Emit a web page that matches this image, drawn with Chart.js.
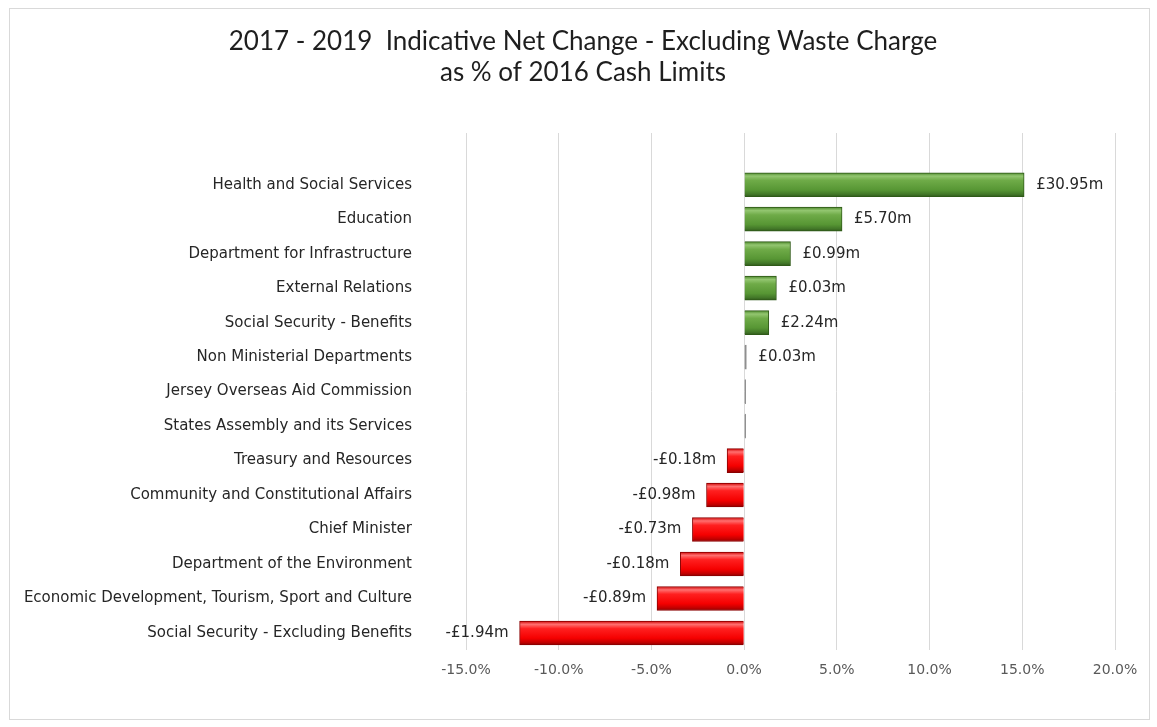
<!DOCTYPE html>
<html>
<head>
<meta charset="utf-8">
<title>2017 - 2019 Indicative Net Change</title>
<script src="https://cdn.jsdelivr.net/npm/chart.js@4"></script>
<style>
  html, body { margin: 0; padding: 0; background: #ffffff; }
  #wrap { position: relative; width: 1157px; height: 727px; }
</style>
</head>
<body>
<div id="wrap"><canvas id="netChart" width="1157" height="727"></canvas></div>
<script>
// ── Data ────────────────────────────────────────────────
// first slot is the empty band Excel leaves above the first bar
const categories = [
  "",
  "Health and Social Services",
  "Education",
  "Department for Infrastructure",
  "External Relations",
  "Social Security - Benefits",
  "Non Ministerial Departments",
  "Jersey Overseas Aid Commission",
  "States Assembly and its Services",
  "Treasury and Resources",
  "Community and Constitutional Affairs",
  "Chief Minister",
  "Department of the Environment",
  "Economic Development, Tourism, Sport and Culture",
  "Social Security - Excluding Benefits"
];
const pctValues = [null, 15.1, 5.28, 2.5, 1.74, 1.33, 0.12, 0.08, 0.08, -0.92, -2.03, -2.79, -3.44, -4.7, -12.11];
const cashLabels = ["", "£30.95m", "£5.70m", "£0.99m", "£0.03m", "£2.24m", "£0.03m", "", "",
  "-£0.18m", "-£0.98m", "-£0.73m", "-£0.18m", "-£0.89m", "-£1.94m"];
const xMin = -15;
const xMax = 20;
const xStep = 5;
const titleLines = ["2017 - 2019  Indicative Net Change - Excluding Waste Charge", "as % of 2016 Cash Limits"];

const BAR_H = 24;
const labelFont = "15px 'DejaVu Sans', Verdana, sans-serif";

// ── Bar fill: a vertical gradient per bar for the tube look ──
function barFill(ctx) {
  const chart = ctx.chart;
  const v = pctValues[ctx.dataIndex];
  if (v === null || v === undefined) return "transparent";
  if (Math.abs(v) < 0.2) return "#8c8c8c";
  const y = chart.scales.y;
  if (!y) return v >= 0 ? "#5a9a3a" : "#f00000";
  const yc = y.getPixelForValue(ctx.dataIndex);
  const g = chart.ctx.createLinearGradient(0, yc - BAR_H / 2, 0, yc + BAR_H / 2);
  if (v >= 0) {
    g.addColorStop(0, "#4f8a2e");
    g.addColorStop(0.14, "#93c670");
    g.addColorStop(0.32, "#6fab48");
    g.addColorStop(0.72, "#579634");
    g.addColorStop(0.9, "#427728");
    g.addColorStop(1, "#30591a");
  } else {
    g.addColorStop(0, "#d00000");
    g.addColorStop(0.14, "#ff7070");
    g.addColorStop(0.32, "#ff2020");
    g.addColorStop(0.72, "#f50000");
    g.addColorStop(0.9, "#c00000");
    g.addColorStop(1, "#8a0000");
  }
  return g;
}

function barEdge(ctx) {
  const v = pctValues[ctx.dataIndex];
  if (v === null || v === undefined) return "transparent";
  if (Math.abs(v) < 0.2) return "#8c8c8c";
  return v >= 0 ? "#2f5a18" : "#8a0000";
}

// ── Plugins ─────────────────────────────────────────────
const frame = {
  id: "frame",
  beforeDraw(chart) {
    const c = chart.ctx;
    c.save();
    c.fillStyle = "#ffffff";
    c.fillRect(0, 0, chart.width, chart.height);
    c.strokeStyle = "#d9d9d9";
    c.lineWidth = 1;
    c.strokeRect(9.5, 8.5, 1140, 711);
    // title, centred on the frame rather than the plot
    c.font = "26px Lato, 'Open Sans', sans-serif";
    c.fillStyle = "#1e1e1e";
    c.textAlign = "center";
    c.textBaseline = "middle";
    c.fillText(titleLines[0], 583, 42);
    c.fillText(titleLines[1], 583, 73);
    c.restore();
  }
};

const valueLabels = {
  id: "valueLabels",
  afterDatasetsDraw(chart) {
    const c = chart.ctx;
    const meta = chart.getDatasetMeta(0);
    c.save();
    c.font = labelFont;
    c.fillStyle = "#262626";
    c.textBaseline = "middle";
    meta.data.forEach((bar, i) => {
      const t = cashLabels[i];
      if (!t) return;
      const v = pctValues[i];
      if (v >= 0) {
        c.textAlign = "left";
        c.fillText(t, bar.x + 12, bar.y);
      } else {
        c.textAlign = "right";
        c.fillText(t, bar.x - 11, bar.y);
      }
    });
    c.restore();
  }
};

// ── Chart ───────────────────────────────────────────────
new Chart(document.getElementById("netChart"), {
  type: "bar",
  data: {
    labels: categories,
    datasets: [{
      data: pctValues,
      backgroundColor: barFill,
      borderColor: barEdge,
      borderWidth: 1,
      barThickness: BAR_H
    }]
  },
  options: {
    indexAxis: "y",
    responsive: false,
    animation: false,
    layout: { padding: { left: 10, right: 42, top: 133, bottom: 36 } },
    plugins: {
      legend: { display: false },
      tooltip: { enabled: false },
      title: { display: false }
    },
    scales: {
      x: {
        min: xMin,
        max: xMax,
        grid: { color: "#d9d9d9", drawTicks: false },
        border: { display: false },
        ticks: {
          stepSize: xStep,
          padding: 12,
          color: "#595959",
          font: { family: "'DejaVu Sans', Verdana, sans-serif", size: 14 },
          callback: (v) => v.toFixed(1) + "%"
        }
      },
      y: {
        grid: { display: false },
        border: { display: false },
        afterFit: (s) => { s.width = 456; },
        ticks: {
          autoSkip: false,
          padding: 46,
          color: "#262626",
          font: { family: "'DejaVu Sans', Verdana, sans-serif", size: 15 }
        }
      }
    }
  },
  plugins: [frame, valueLabels]
});
</script>
</body>
</html>
